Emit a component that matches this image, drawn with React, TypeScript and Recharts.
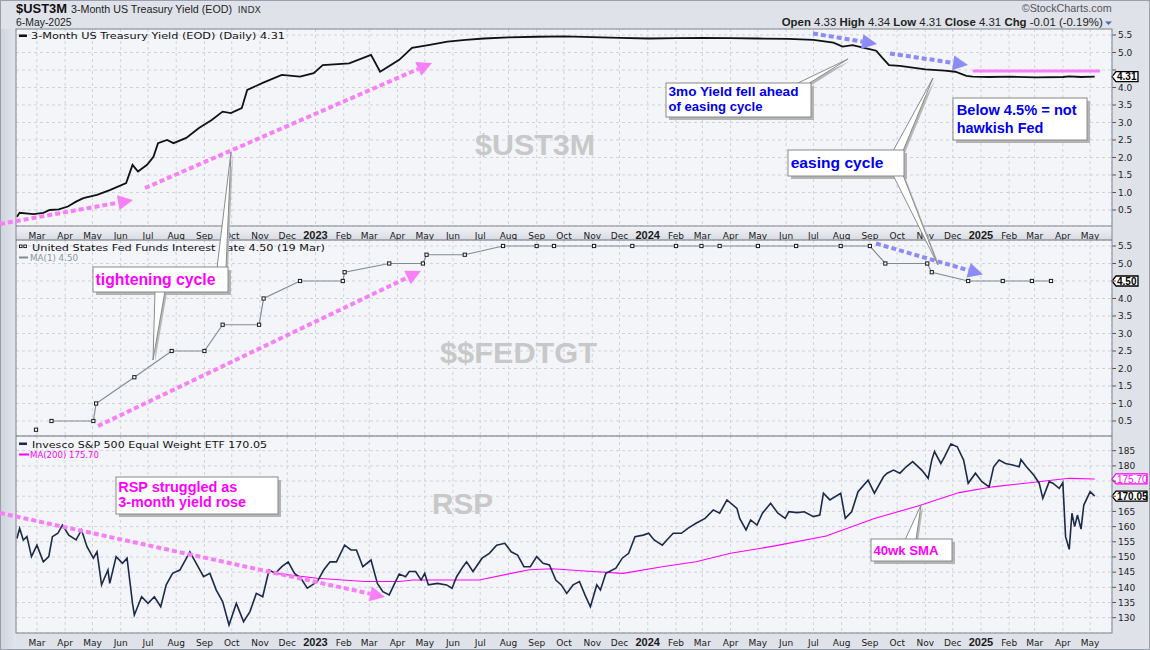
import React from 'react';
import { ComposedChart, Line, XAxis, YAxis, CartesianGrid, ReferenceLine } from 'recharts';

// ---------------- DATA ----------------
const ust3mDates = [
  '2022-02-07', '2022-02-10', '2022-02-25', '2022-03-08', '2022-03-15', '2022-03-25', '2022-04-04', '2022-04-13', '2022-04-21', '2022-05-06',
  '2022-05-20', '2022-06-07', '2022-06-14', '2022-06-20', '2022-06-30', '2022-07-07', '2022-07-12', '2022-07-22', '2022-07-29', '2022-08-12',
  '2022-08-26', '2022-09-09', '2022-09-21', '2022-09-30', '2022-10-12', '2022-10-18', '2022-11-04', '2022-11-25', '2022-12-15', '2022-12-30',
  '2023-01-09', '2023-02-07', '2023-03-03', '2023-03-13', '2023-04-03', '2023-04-17', '2023-05-05', '2023-05-26', '2023-06-15', '2023-07-05',
  '2023-08-01', '2023-09-01', '2023-10-02', '2023-11-01', '2023-12-01', '2024-01-02', '2024-02-01', '2024-03-01', '2024-04-01', '2024-05-01',
  '2024-06-03', '2024-07-01', '2024-07-23', '2024-08-02', '2024-08-13', '2024-08-28', '2024-09-08', '2024-09-15', '2024-09-22', '2024-10-04',
  '2024-10-18', '2024-11-01', '2024-11-22', '2024-12-04', '2024-12-16', '2024-12-23', '2025-01-10', '2025-02-03', '2025-03-03', '2025-04-01',
  '2025-04-08', '2025-04-21', '2025-05-06',
];
const ust3mYield = [
  0.31, 0.42, 0.38, 0.42, 0.50, 0.52, 0.60, 0.74, 0.84, 0.93,
  1.07, 1.27, 1.79, 1.60, 1.79, 2.02, 2.41, 2.50, 2.41, 2.56,
  2.84, 3.07, 3.31, 3.27, 3.41, 3.93, 4.13, 4.36, 4.31, 4.41,
  4.64, 4.69, 4.93, 4.45, 4.79, 5.13, 5.21, 5.31, 5.36, 5.40,
  5.43, 5.45, 5.46, 5.44, 5.42, 5.40, 5.41, 5.42, 5.41, 5.40,
  5.39, 5.36, 5.28, 5.17, 5.21, 5.12, 5.05, 4.84, 4.64, 4.62,
  4.57, 4.52, 4.48, 4.45, 4.33, 4.31, 4.30, 4.31, 4.29, 4.30,
  4.32, 4.30, 4.31,
];

const fedDates = [
  '2022-02-28', '2022-03-17', '2022-05-02', '2022-05-05', '2022-06-16', '2022-07-27', '2022-09-01', '2022-09-21', '2022-10-31', '2022-11-05',
  '2022-12-15', '2023-01-31', '2023-02-02', '2023-03-23', '2023-04-29', '2023-05-03', '2023-06-14', '2023-07-26', '2023-09-01', '2023-09-20',
  '2023-11-03', '2023-12-15', '2024-02-01', '2024-02-29', '2024-03-20', '2024-05-01', '2024-06-12', '2024-07-31', '2024-09-01', '2024-09-18',
  '2024-11-03', '2024-11-08', '2024-12-18', '2025-01-25', '2025-02-26', '2025-03-19',
];
const fedRate = [
  0.25, 0.50, 0.50, 1.00, 1.75, 2.50, 2.50, 3.25, 3.25, 4.00,
  4.50, 4.50, 4.75, 5.00, 5.00, 5.25, 5.25, 5.50, 5.50, 5.50,
  5.50, 5.50, 5.50, 5.50, 5.50, 5.50, 5.50, 5.50, 5.50, 5.00,
  5.00, 4.75, 4.50, 4.50, 4.50, 4.50,
];

const rspDates2022 = [
  '2022-02-07', '2022-02-10', '2022-02-14', '2022-02-18', '2022-02-23', '2022-03-01', '2022-03-08', '2022-03-14', '2022-03-18', '2022-03-24',
  '2022-03-29', '2022-04-05', '2022-04-13', '2022-04-19', '2022-04-25', '2022-05-02', '2022-05-06', '2022-05-11', '2022-05-18', '2022-05-20',
  '2022-05-27', '2022-06-03', '2022-06-08', '2022-06-14', '2022-06-16', '2022-06-24', '2022-07-01', '2022-07-08', '2022-07-15', '2022-07-21',
  '2022-07-28', '2022-08-05', '2022-08-16', '2022-08-23', '2022-08-31', '2022-09-07', '2022-09-14', '2022-09-21', '2022-09-28', '2022-10-06',
  '2022-10-14', '2022-10-21', '2022-10-28', '2022-11-04', '2022-11-11', '2022-11-18', '2022-11-25', '2022-12-02', '2022-12-09', '2022-12-16',
  '2022-12-23',
];
const rspClose2022 = [
  156.1, 159.4, 155.6, 156.7, 150.1, 153.9, 148.4, 150.1, 156.7, 157.8,
  160.5, 157.2, 155.6, 158.9, 153.4, 149.6, 151.7, 140.8, 145.7, 141.3,
  150.1, 147.9, 149.6, 134.7, 130.9, 136.9, 134.7, 136.9, 133.6, 140.8,
  144.6, 145.7, 151.7, 147.9, 143.5, 144.6, 139.1, 135.3, 127.6, 134.7,
  128.7, 132.0, 138.0, 136.9, 145.7, 144.6, 146.8, 148.4, 144.6, 143.0,
  139.7,
];
const rspDates2023 = [
  '2023-01-03', '2023-01-10', '2023-01-17', '2023-01-24', '2023-02-02', '2023-02-09', '2023-02-15', '2023-02-22', '2023-03-03', '2023-03-10',
  '2023-03-16', '2023-03-23', '2023-03-29', '2023-04-03', '2023-04-10', '2023-04-14', '2023-04-21', '2023-04-27', '2023-05-01', '2023-05-05',
  '2023-05-15', '2023-05-25', '2023-05-31', '2023-06-05', '2023-06-12', '2023-06-16', '2023-06-23', '2023-07-03', '2023-07-11', '2023-07-19',
  '2023-07-28', '2023-08-04', '2023-08-11', '2023-08-18', '2023-08-25', '2023-09-01', '2023-09-08', '2023-09-15', '2023-09-22', '2023-09-28',
  '2023-10-04', '2023-10-11', '2023-10-18', '2023-10-24', '2023-10-30', '2023-11-06', '2023-11-10', '2023-11-16', '2023-11-27', '2023-12-04',
  '2023-12-11', '2023-12-18', '2023-12-27',
];
const rspClose2023 = [
  141.9, 145.7, 148.4, 148.4, 153.9, 152.3, 152.3, 146.8, 149.0, 141.3,
  138.6, 137.5, 141.3, 144.4, 143.5, 145.2, 145.2, 142.4, 144.6, 140.8,
  141.3, 140.8, 139.7, 143.5, 146.8, 148.4, 145.2, 149.6, 151.2, 153.9,
  154.5, 151.7, 150.6, 146.8, 146.8, 150.1, 147.9, 147.4, 142.4, 140.8,
  138.0, 140.8, 141.9, 137.5, 133.6, 140.8, 139.1, 144.6, 146.3, 149.6,
  151.2, 156.7, 157.2,
];
const rspDates2024 = [
  '2024-01-02', '2024-01-08', '2024-01-17', '2024-01-22', '2024-01-29', '2024-02-07', '2024-02-14', '2024-02-23', '2024-03-04', '2024-03-13',
  '2024-03-20', '2024-03-28', '2024-04-08', '2024-04-11', '2024-04-18', '2024-04-23', '2024-04-30', '2024-05-06', '2024-05-15', '2024-05-23',
  '2024-05-31', '2024-06-04', '2024-06-13', '2024-06-21', '2024-07-01', '2024-07-08', '2024-07-12', '2024-07-19', '2024-07-31', '2024-08-05',
  '2024-08-12', '2024-08-19', '2024-08-30', '2024-09-06', '2024-09-16', '2024-09-20', '2024-09-27', '2024-10-04', '2024-10-11', '2024-10-18',
  '2024-10-28', '2024-11-04', '2024-11-08', '2024-11-11', '2024-11-18', '2024-11-22', '2024-11-29', '2024-12-06', '2024-12-13', '2024-12-18',
  '2024-12-26',
];
const rspClose2024 = [
  157.8, 155.6, 153.9, 155.6, 157.8, 157.8, 159.4, 161.1, 162.7, 165.5,
  164.4, 168.8, 166.0, 162.7, 158.9, 162.2, 160.5, 164.4, 167.7, 164.4,
  162.7, 164.9, 164.6, 164.9, 163.3, 163.8, 171.0, 168.8, 171.0, 162.7,
  164.9, 171.5, 175.3, 171.0, 176.4, 177.6, 178.6, 177.6, 179.7, 181.4,
  178.6, 175.9, 181.9, 184.7, 180.8, 183.0, 187.2, 186.3, 181.9, 174.3,
  177.6,
];
const rspDates2025 = [
  '2025-01-02', '2025-01-10', '2025-01-15', '2025-01-21', '2025-01-28', '2025-02-05', '2025-02-12', '2025-02-14', '2025-02-20', '2025-02-28',
  '2025-03-06', '2025-03-10', '2025-03-17', '2025-03-21', '2025-03-28', '2025-04-01', '2025-04-04', '2025-04-08', '2025-04-11', '2025-04-14',
  '2025-04-17', '2025-04-21', '2025-04-24', '2025-05-01', '2025-05-06',
];
const rspClose2025 = [
  174.8, 173.1, 179.7, 181.9, 180.8, 180.3, 179.7, 182.1, 179.7, 177.0,
  174.3, 169.3, 174.8, 174.3, 172.6, 174.5, 156.7, 152.5, 164.4, 160.0,
  163.8, 159.2, 167.1, 171.5, 170.05,
];

const rspMaDates = [
  '2022-11-18', '2023-01-03', '2023-02-24', '2023-04-03', '2023-04-18', '2023-06-30', '2023-08-04', '2023-08-24', '2023-09-18', '2023-11-01',
  '2023-12-05', '2024-01-17', '2024-02-23', '2024-04-01', '2024-05-03', '2024-05-24', '2024-07-15', '2024-09-06', '2024-10-24', '2024-12-08',
  '2025-01-14', '2025-02-19', '2025-03-29', '2025-04-08', '2025-05-06',
];
const rspMa200 = [
  144.6, 143.0, 141.9, 141.9, 142.4, 142.4, 144.6, 145.8, 146.1, 145.2,
  144.6, 146.8, 148.4, 151.2, 152.8, 153.9, 156.9, 162.7, 166.8, 171.2,
  173.1, 174.3, 175.6, 175.9, 175.7,
];

const monthNames = ['Jan', 'Feb', 'Mar', 'Apr', 'May', 'Jun', 'Jul', 'Aug', 'Sep', 'Oct', 'Nov', 'Dec'];
const yieldTicks = [0.5, 1.0, 1.5, 2.0, 2.5, 3.0, 3.5, 4.0, 4.5, 5.0, 5.5];
const rspTicks = [130, 135, 140, 145, 150, 155, 160, 165, 170, 175, 180, 185];
const pinkLevel = 4.47;

// ---------------- HELPERS ----------------
const BASE = Date.UTC(2022, 2, 1);
const dayOf = (s: string) => {
  const [y, m, d] = s.split('-').map(Number);
  return (Date.UTC(y, m - 1, d) - BASE) / 86400000;
};
const toRows = (dates: string[], vals: number[]) => dates.map((s, i) => ({ d: dayOf(s), v: vals[i] }));

const ustRows = toRows(ust3mDates, ust3mYield);
const fedRows = toRows(fedDates, fedRate);
const fedLineRows = fedRows.slice(1);
const rspRows = toRows(
  [...rspDates2022, ...rspDates2023, ...rspDates2024, ...rspDates2025],
  [...rspClose2022, ...rspClose2023, ...rspClose2024, ...rspClose2025],
);
const maRows = toRows(rspMaDates, rspMa200);

const xDomain: [number, number] = [dayOf('2022-02-06'), dayOf('2025-05-25')];
const monthTicks: number[] = [];
for (let y = 2022; y <= 2025; y++) {
  for (let m = 0; m < 12; m++) {
    const t = (Date.UTC(y, m, 1) - BASE) / 86400000;
    if (t >= 0 && t <= dayOf('2025-05-01')) monthTicks.push(t);
  }
}

const FONT = "'DejaVu Sans', Verdana, sans-serif";
const ARIAL = "'Liberation Sans', Arial, sans-serif";
const PINK = '#f77ff7';
const BLUE = '#8c8cf6';
const MAGENTA = '#ff00ff';
const TXTBLUE = '#0000ee';
const NAVY = '#1c2a4a';
const GRID = '#cfd3dc';
const PLOTBG = '#f4f5f9';

const XTick = (props: any) => {
  const { x, y, payload } = props;
  const dt = new Date(BASE + payload.value * 86400000);
  const m = dt.getUTCMonth();
  const isYear = m === 0;
  return (
    <text x={x} y={y + 10.5} textAnchor="middle" fontFamily={isYear ? ARIAL : FONT}
      fontSize={isYear ? 11 : 9} fontWeight={isYear ? 'bold' : 'normal'} fill="#1a1a1a">
      {isYear ? String(dt.getUTCFullYear()) : monthNames[m]}
    </text>
  );
};

const YTick = (props: any) => {
  const { x, y, payload, decimals, hideVals } = props;
  const v = payload.value;
  if (hideVals && hideVals.some((h: number) => Math.abs(h - v) < 1e-6)) return <g />;
  return (
    <text x={x} y={y + 3.2} textAnchor="start" fontFamily={FONT} fontSize={9} fill="#222">
      {Number(v).toFixed(decimals)}
    </text>
  );
};

const ValueBox = (props: any) => {
  const { viewBox, text, stroke, color, bold, w } = props;
  if (!viewBox) return null;
  const R = viewBox.x + viewBox.width;
  const y = viewBox.y;
  const h = 5;
  const pts = `${R},${y} ${R + 4},${y - h} ${R + w},${y - h} ${R + w},${y + h} ${R + 4},${y + h}`;
  return (
    <g>
      <polygon points={pts} fill="#fff" stroke={stroke} strokeWidth={1.3} />
      <text x={R + 5} y={y + 3.7} fontFamily={ARIAL} fontSize={10} fontWeight={bold ? 'bold' : 'normal'} fill={color}>
        {text}
      </text>
    </g>
  );
};

const FedDot = (p: any) => (
  <rect key={`fd-${p.index}`} x={p.cx - 1.6} y={p.cy - 1.6} width={3.2} height={3.2} fill="#fff" stroke="#1a1a1a" strokeWidth={1} />
);

// ---------------- CHARTS ----------------
function YieldPanel() {
  const last = ust3mYield[ust3mYield.length - 1];
  return (
    <ComposedChart width={1150} height={211} margin={{ top: 0, right: 0, bottom: 0, left: 16 }}>
      <CartesianGrid stroke={GRID} strokeDasharray="3 3" fill={PLOTBG} fillOpacity={1} />
      <XAxis dataKey="d" type="number" domain={xDomain} ticks={monthTicks} interval={0} allowDataOverflow
        height={14} axisLine={false} tickLine={false} tickSize={0} tick={<XTick />} />
      <YAxis type="number" orientation="right" domain={[0.043, 5.671]} ticks={yieldTicks} interval={0} allowDataOverflow
        width={38} axisLine={false} tickLine={{ stroke: '#555' }} tickSize={4} tickMargin={2}
        tick={<YTick decimals={1} hideVals={[4.5]} />} />
      <ReferenceLine segment={[{ x: dayOf('2024-12-23'), y: pinkLevel }, { x: dayOf('2025-05-12'), y: pinkLevel }]}
        stroke={PINK} strokeWidth={3} />
      <Line data={ustRows} dataKey="v" type="linear" stroke="#111" strokeWidth={1.8} dot={false} isAnimationActive={false} />
      <ReferenceLine y={last} stroke="none" ifOverflow="visible"
        label={<ValueBox text={last.toFixed(2)} stroke="#000" color="#000" bold w={26} />} />
    </ComposedChart>
  );
}

function FedPanel() {
  const last = fedRate[fedRate.length - 1];
  return (
    <ComposedChart width={1150} height={196} margin={{ top: 0, right: 0, bottom: 0, left: 16 }}>
      <CartesianGrid stroke={GRID} strokeDasharray="3 3" fill={PLOTBG} fillOpacity={1} />
      <XAxis dataKey="d" type="number" domain={xDomain} ticks={monthTicks} interval={0} allowDataOverflow hide />
      <YAxis type="number" orientation="right" domain={[0.071, 5.671]} ticks={yieldTicks} interval={0} allowDataOverflow
        width={38} axisLine={false} tickLine={{ stroke: '#555' }} tickSize={4} tickMargin={2}
        tick={<YTick decimals={1} hideVals={[4.5]} />} />
      <Line data={fedLineRows} dataKey="v" type="linear" stroke="#7f8c98" strokeWidth={1.2} dot={false} isAnimationActive={false} />
      <Line data={fedRows} dataKey="v" type="linear" stroke="none" dot={FedDot} isAnimationActive={false} />
      <ReferenceLine y={last} stroke="none" ifOverflow="visible"
        label={<ValueBox text={last.toFixed(2)} stroke="#000" color="#000" bold w={26} />} />
    </ComposedChart>
  );
}

function RspPanel() {
  const last = rspClose2025[rspClose2025.length - 1];
  const lastMa = rspMa200[rspMa200.length - 1];
  return (
    <ComposedChart width={1150} height={214} margin={{ top: 0, right: 0, bottom: 0, left: 16 }}>
      <CartesianGrid stroke={GRID} strokeDasharray="3 3" fill={PLOTBG} fillOpacity={1} />
      <XAxis dataKey="d" type="number" domain={xDomain} ticks={monthTicks} interval={0} allowDataOverflow
        height={17} axisLine={false} tickLine={false} tickSize={0} tick={<XTick />} />
      <YAxis type="number" orientation="right" domain={[124.96, 189.84]} ticks={rspTicks} interval={0} allowDataOverflow
        width={38} axisLine={false} tickLine={{ stroke: '#555' }} tickSize={4} tickMargin={2}
        tick={<YTick decimals={0} hideVals={[170, 175]} />} />
      <Line data={maRows} dataKey="v" type="linear" stroke={MAGENTA} strokeWidth={1.1} dot={false} isAnimationActive={false} />
      <Line data={rspRows} dataKey="v" type="linear" stroke={NAVY} strokeWidth={1.6} dot={false} isAnimationActive={false} />
      <ReferenceLine y={lastMa} stroke="none" ifOverflow="visible"
        label={<ValueBox text={lastMa.toFixed(2)} stroke={MAGENTA} color={MAGENTA} w={35} />} />
      <ReferenceLine y={last} stroke="none" ifOverflow="visible"
        label={<ValueBox text={last.toFixed(2)} stroke="#000" color="#000" bold w={35} />} />
    </ComposedChart>
  );
}

// ---------------- ANNOTATIONS ----------------
function DashArrow({ x1, y1, x2, y2, color }: any) {
  const dx = x2 - x1, dy = y2 - y1, len = Math.hypot(dx, dy);
  const ux = dx / len, uy = dy / len;
  const L = 15, W = 7.5;
  const bx = x2 - ux * L, by = y2 - uy * L;
  return (
    <g>
      <line x1={x1} y1={y1} x2={bx} y2={by} stroke={color} strokeWidth={4} strokeDasharray="5 3" />
      <polygon points={`${x2},${y2} ${bx - uy * W},${by + ux * W} ${bx + uy * W},${by - ux * W}`} fill={color} />
    </g>
  );
}

function Callout({ x, y, w, h, color, size, lines, tails }: any) {
  return (
    <g>
      {(tails || []).map((t: number[], i: number) => (
        <polygon key={`ts${i}`} points={`${t[0] + 2},${t[1] + 2} ${t[2] + 2},${t[3] + 2} ${t[4] + 2},${t[5] + 2}`} fill="#b8b8b8" />
      ))}
      <rect x={x + 3} y={y + 3} width={w} height={h} fill="#b4b4b4" />
      {(tails || []).map((t: number[], i: number) => (
        <polygon key={`t${i}`} points={`${t[0]},${t[1]} ${t[2]},${t[3]} ${t[4]},${t[5]}`} fill="#fff" stroke="#8a8a8a" strokeWidth={1} />
      ))}
      <rect x={x} y={y} width={w} height={h} fill="#fff" stroke="#8a8a8a" strokeWidth={1} />
      {lines.map((l: any, i: number) => (
        <text key={i} x={l.x} y={l.y} fontFamily={ARIAL} fontWeight="bold" fontSize={size} fill={color}
          textLength={l.len} lengthAdjust="spacingAndGlyphs">{l.t}</text>
      ))}
    </g>
  );
}

function Overlay() {
  const border = '#80858f';
  return (
    <svg width={1150} height={650} style={{ position: 'absolute', left: 0, top: 0, pointerEvents: 'none' }}>
      {/* panel borders */}
      <rect x={16} y={29} width={1096} height={604} fill="none" stroke={border} strokeWidth={1} />
      <line x1={16} y1={226} x2={1112} y2={226} stroke={border} />
      <line x1={16} y1={240} x2={1112} y2={240} stroke="#6c717b" strokeWidth={1.2} />
      <line x1={16} y1={436} x2={1112} y2={436} stroke="#6c717b" strokeWidth={1.2} />

      {/* watermarks */}
      <text x={475} y={155} fontFamily={ARIAL} fontWeight="bold" fontSize={30} fill="#c8c8c8" textLength={120} lengthAdjust="spacingAndGlyphs">$UST3M</text>
      <text x={440} y={363} fontFamily={ARIAL} fontWeight="bold" fontSize={30} fill="#c8c8c8" textLength={157} lengthAdjust="spacingAndGlyphs">$$FEDTGT</text>
      <text x={432} y={514} fontFamily={ARIAL} fontWeight="bold" fontSize={30} fill="#c8c8c8" textLength={61} lengthAdjust="spacingAndGlyphs">RSP</text>

      {/* legends */}
      <rect x={19} y={34.5} width={8} height={2.5} fill="#111" />
      <text x={31} y={38.5} fontFamily={FONT} fontSize={9.5} fill="#111" textLength={254} lengthAdjust="spacingAndGlyphs">3-Month US Treasury Yield (EOD) (Daily) 4.31</text>

      <rect x={19.5} y={245} width={2.6} height={2.6} fill="#fff" stroke="#111" strokeWidth={0.9} />
      <rect x={23.8} y={245} width={2.6} height={2.6} fill="#fff" stroke="#111" strokeWidth={0.9} />
      <text x={32} y={250.5} fontFamily={FONT} fontSize={9.5} fill="#111" textLength={293} lengthAdjust="spacingAndGlyphs">United States Fed Funds Interest Rate 4.50 (19 Mar)</text>
      <rect x={19} y={256.5} width={9} height={2} fill="#7f8c98" />
      <text x={30} y={261} fontFamily={FONT} fontSize={9.5} fill="#8a949e" textLength={48} lengthAdjust="spacingAndGlyphs">MA(1) 4.50</text>

      <rect x={19} y={442.5} width={8} height={2.5} fill={NAVY} />
      <text x={32} y={447.5} fontFamily={FONT} fontSize={9.5} fill="#111" textLength={235} lengthAdjust="spacingAndGlyphs">Invesco S&amp;P 500 Equal Weight ETF 170.05</text>
      <rect x={19} y={453.5} width={10} height={2} fill={MAGENTA} />
      <text x={30} y={458} fontFamily={FONT} fontSize={9.5} fill={MAGENTA} textLength={69} lengthAdjust="spacingAndGlyphs">MA(200) 175.70</text>

      {/* dotted arrows */}
      <DashArrow x1={0} y1={224} x2={133} y2={200} color={PINK} />
      <DashArrow x1={145} y1={188} x2={432} y2={63} color={PINK} />
      <DashArrow x1={98} y1={426} x2={421} y2={271} color={PINK} />
      <DashArrow x1={0} y1={513} x2={385} y2={597} color={PINK} />
      <DashArrow x1={813} y1={33.5} x2={877} y2={44} color={BLUE} />
      <DashArrow x1={890} y1={53.5} x2={968} y2={65} color={BLUE} />
      <DashArrow x1={876} y1={243.5} x2={983} y2={274.5} color={BLUE} />

      {/* callouts */}
      <Callout x={93} y={267} w={135} h={25} color={MAGENTA} size={16}
        tails={[[217, 268, 226, 268, 231, 152], [155, 291, 165, 291, 153, 360]]}
        lines={[{ t: 'tightening cycle', x: 95.5, y: 284.5, len: 120 }]} />
      <Callout x={666} y={83} w={145} h={34} color={TXTBLUE} size={13.5}
        tails={[[796, 84, 808, 84, 848, 59]]}
        lines={[{ t: '3mo Yield fell ahead', x: 668.5, y: 95.5, len: 130 }, { t: 'of easing cycle', x: 668.5, y: 110.5, len: 94 }]} />
      <Callout x={788} y={150} w={116} h={26} color={TXTBLUE} size={15.5}
        tails={[[893, 151, 903, 151, 933, 78], [893, 175, 903, 175, 938, 265]]}
        lines={[{ t: 'easing cycle', x: 790.7, y: 167.5, len: 92.7 }]} />
      <Callout x={953} y={98} w={134} h={42} color={TXTBLUE} size={14.5}
        lines={[{ t: 'Below 4.5% = not', x: 956.7, y: 115, len: 120 }, { t: 'hawkish Fed', x: 956.7, y: 132.5, len: 86.7 }]} />
      <Callout x={116} y={477} w={162} h={37} color={MAGENTA} size={14.5}
        lines={[{ t: 'RSP struggled as', x: 118.3, y: 491.7, len: 119 }, { t: '3-month yield rose', x: 118.3, y: 506.7, len: 127.7 }]} />
      <Callout x={871} y={539} w={81} h={22} color={MAGENTA} size={13.5}
        tails={[[905, 540, 916, 540, 921, 505]]}
        lines={[{ t: '40wk SMA', x: 873.5, y: 555, len: 65 }]} />
    </svg>
  );
}

function BaseLayer() {
  return (
    <svg width={1150} height={650} style={{ position: 'absolute', left: 0, top: 0 }}>
      <defs>
        <linearGradient id="leftStrip" x1="0" x2="1" y1="0" y2="0">
          <stop offset="0" stopColor="#cfd3dc" />
          <stop offset="1" stopColor="#e2e5ec" />
        </linearGradient>
        <linearGradient id="dateStrip" x1="0" x2="0" y1="0" y2="1">
          <stop offset="0" stopColor="#f2f3f6" />
          <stop offset="1" stopColor="#d8dbe3" />
        </linearGradient>
      </defs>
      <rect x={0} y={0} width={1150} height={650} fill="#dfe2e9" />
      <rect x={0} y={29} width={16} height={621} fill="url(#leftStrip)" />
      <rect x={16} y={226} width={1096} height={14} fill="url(#dateStrip)" />
      <rect x={0.5} y={0.5} width={1149} height={649} fill="none" stroke="#9aa0ab" />

      {/* header */}
      <text x={16} y={13} fontFamily={ARIAL} fontWeight="bold" fontSize={13.5} fill="#111" textLength={51} lengthAdjust="spacingAndGlyphs">$UST3M</text>
      <text x={71} y={13} fontFamily={ARIAL} fontSize={11} fill="#222" textLength={161} lengthAdjust="spacingAndGlyphs">3-Month US Treasury Yield (EOD)</text>
      <text x={237.7} y={13} fontFamily={FONT} fontSize={9} fill="#333" textLength={23.3} lengthAdjust="spacingAndGlyphs">INDX</text>
      <text x={16} y={25.5} fontFamily={ARIAL} fontSize={10.5} fill="#222" textLength={55.5} lengthAdjust="spacingAndGlyphs">6-May-2025</text>
      <text x={1021.7} y={12.3} fontFamily={ARIAL} fontSize={11} fill="#555" textLength={90} lengthAdjust="spacingAndGlyphs">©StockCharts.com</text>
      <text x={781.7} y={25.5} fontFamily={ARIAL} fontSize={11} fill="#222" textLength={321} lengthAdjust="spacingAndGlyphs">
        <tspan fontWeight="bold">Open</tspan> 4.33  <tspan fontWeight="bold">High</tspan> 4.34  <tspan fontWeight="bold">Low</tspan> 4.31  <tspan fontWeight="bold">Close</tspan> 4.31  <tspan fontWeight="bold">Chg</tspan> -0.01 (-0.19%)
      </text>
      <polygon points="1105,21.5 1112,21.5 1108.5,25" fill="#4a6bb0" />
    </svg>
  );
}

export default function App() {
  return (
    <div style={{ position: 'absolute', left: 0, top: 0, width: 1150, height: 650, overflow: 'hidden' }}>
      <BaseLayer />
      <div style={{ position: 'absolute', left: 0, top: 29 }}>
        <YieldPanel />
      </div>
      <div style={{ position: 'absolute', left: 0, top: 240 }}>
        <FedPanel />
      </div>
      <div style={{ position: 'absolute', left: 0, top: 436 }}>
        <RspPanel />
      </div>
      <Overlay />
    </div>
  );
}
